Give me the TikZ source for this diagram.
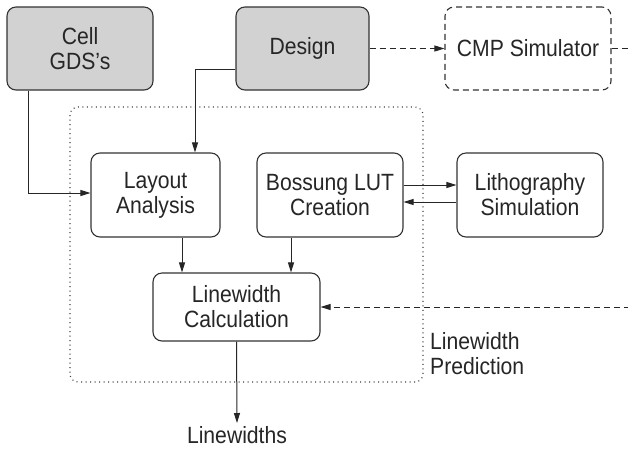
\documentclass[tikz,border=0pt]{standalone}
\usepackage{fontspec}
\setmainfont{Liberation Sans}[FakeStretch=0.9]
\usetikzlibrary{arrows.meta,calc}
\begin{document}
\begin{tikzpicture}[x=1pt,y=-1pt,
  every node/.style={font=\fontsize{23.5}{25}\selectfont, text=black!85},
  blk/.style={draw=black!80, line width=1.1pt, rounded corners=9pt, align=center, inner sep=0pt},
  grayblk/.style={blk, fill=gray!35},
  dashblk/.style={blk, dash pattern=on 6pt off 4pt},
  arr/.style={draw=black!85, line width=1pt, -{Triangle[length=10pt,width=6pt]}},
  dsh/.style={arr, dash pattern=on 6pt off 4pt},
  dotbox/.style={draw=black!75, line width=1.1pt, dash pattern=on 1pt off 3.5pt, rounded corners=8pt}
]
\clip (0,0) rectangle (628,448);
\fill[white] (0,0) rectangle (628,448);
% dotted container
\draw[dotbox] (70,107) rectangle (423,382);
% nodes
\node[grayblk, minimum width=146pt, minimum height=83pt] (cell) at (80,48.5) {Cell\\GDS’s};
\node[grayblk, minimum width=133pt, minimum height=83pt] (design) at (302.5,48.5) {Design};
\node[dashblk, minimum width=166pt, minimum height=83pt] (cmp) at (528,48.5) {CMP Simulator};
\node[blk, minimum width=129pt, minimum height=84pt] (layout) at (155.5,195) {Layout\\Analysis};
\node[blk, minimum width=146pt, minimum height=84pt] (bossung) at (330,195) {Bossung LUT\\Creation};
\node[blk, minimum width=146pt, minimum height=84pt] (litho) at (530,195) {Lithography\\Simulation};
\node[blk, minimum width=167pt, minimum height=68pt] (lc) at (236.5,307) {Linewidth\\Calculation};
\node[anchor=north, inner sep=3pt] (lw) at (237,423) {Linewidths};
\node[anchor=west, align=left, inner sep=0pt] (pred) at (430,354) {Linewidth\\Prediction};
% connectors
\draw[dsh] (design.east) -- (cmp.west);
\draw[dsh] (cmp.east) -- ++(40,0) |- (lc.east);
\draw[arr] ($(design.west)+(0,20.5)$) -| ($(layout.north)+(39.5,0)$);
\draw[arr] ($(cell.south)+(-52,0)$) |- ($(layout.west)+(0,-2)$);
\draw[arr] ([xshift=26.5pt]layout.south) -- ([xshift=26.5pt]layout.south |- lc.north);
\draw[arr] ([xshift=-39pt]bossung.south) -- ([xshift=-39pt]bossung.south |- lc.north);
\draw[arr] ([yshift=10pt]bossung.east) -- ([yshift=10pt]bossung.east -| litho.west);
\draw[arr] ([yshift=-7pt]litho.west) -- ([yshift=-7pt]litho.west -| bossung.east);
\draw[arr] (lc.south) -- (lw.north);
\end{tikzpicture}
\end{document}
